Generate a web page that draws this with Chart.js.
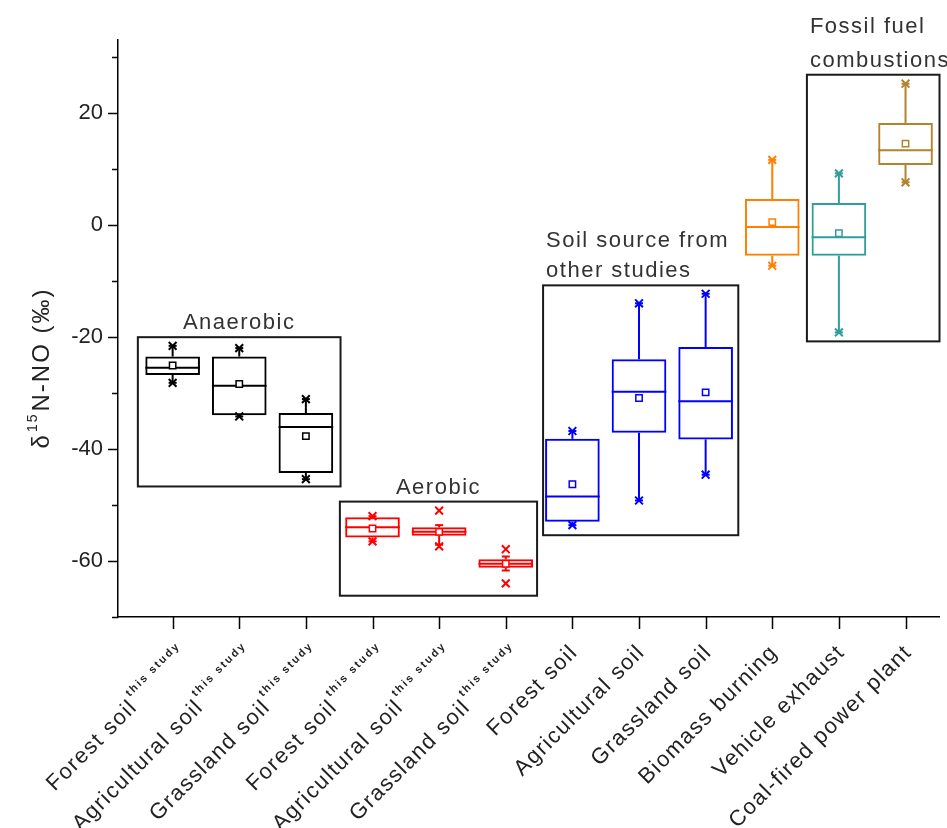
<!DOCTYPE html>
<html><head><meta charset="utf-8">
<script src="https://cdn.jsdelivr.net/npm/chart.js@4.4.1/dist/chart.umd.min.js"></script>
<style>html,body{margin:0;padding:0;background:#fff}#wrap{width:947px;height:828px}</style>
</head><body><div id="wrap"><canvas id="c" width="947" height="828"></canvas></div>
<script>
// ---- data ----
const categories = ['Forest soil','Agricultural soil','Grassland soil','Forest soil','Agricultural soil','Grassland soil','Forest soil','Agricultural soil','Grassland soil','Biomass burning','Vehicle exhaust','Coal-fired power plant'];
const superscripts = ['this study','this study','this study','this study','this study','this study','','','','','',''];
const q1          = [-26.8, -34.0, -44.3, -55.8, -55.5, -61.2, -53.0, -37.1, -38.3, -5.5, -5.5, 10.7];
const q3          = [-23.5, -23.5, -33.6, -52.2, -54.0, -59.7, -38.2, -24.0, -21.8,  4.6,  3.9, 18.2];
const median      = [-25.5, -28.7, -36.1, -54.0, -54.8, -60.5, -48.5, -29.8, -31.5, -0.4, -2.2, 13.3];
const mean        = [-25.1, -28.4, -37.7, -54.2, -54.8, -60.5, -46.3, -30.9, -29.9,  0.5, -1.5, 14.5];
const whiskerLow  = [-28.2, -34.2, -45.4, -56.5, -57.1, -61.7, -53.6, -49.2, -44.6, -7.3, -19.2, 7.6];
const whiskerHigh = [-21.6, -22.0, -31.1, -52.0, -53.6, -59.2, -36.8, -14.0, -12.3, 11.6,  9.2, 25.2];
const minValue    = [-28.2, -34.2, -45.4, -56.5, -57.4, -64.0, -53.6, -49.2, -44.6, -7.3, -19.2, 7.6];
const maxValue    = [-21.6, -22.0, -31.1, -52.0, -51.0, -57.9, -36.8, -14.0, -12.3, 11.6,  9.2, 25.2];
const yTickValues = [-70,-60,-50,-40,-30,-20,-10,0,10,20,30];
const groupNames  = [['Anaerobic'], ['Aerobic'], ['Soil source from','other studies'], ['Fossil fuel','combustions']];
const groupXFrom  = [0.478, 3.51, 6.56, 10.52];
const groupXTo    = [3.52, 6.47, 9.49, 12.51];
const groupYTop   = [-20.05, -49.4, -10.8, 26.8];
const groupYBot   = [-46.7, -66.2, -55.4, -20.8];

// ---- styles ----
const colors = ['#000000','#000000','#000000','#ff0000','#ff0000','#ff0000','#0000ff','#0000ff','#0000ff','#ff8000','#2e9e9c','#b3822d'];
const groupAlign = ['center','center','left','left'];
const groupLineGap = [29, 29, 30, 34];
const FONT = '"Liberation Sans", Arial, sans-serif';
const idx = categories.map((c,i)=>i+1);

function seg(ctx,x1,y1,x2,y2){ctx.beginPath();ctx.moveTo(x1,y1);ctx.lineTo(x2,y2);ctx.stroke();}

const boxPlugin = {
  id:'boxparts',
  beforeDatasetsDraw(chart){
    const ctx = chart.ctx, xs = chart.scales.x, ys = chart.scales.y;
    const meta = chart.getDatasetMeta(0);
    ctx.save();
    ctx.lineCap = 'butt';
    groupNames.forEach((g,k)=>{
      const x1 = xs.getPixelForValue(groupXFrom[k]), x2 = xs.getPixelForValue(groupXTo[k]);
      const y1 = ys.getPixelForValue(groupYTop[k]), y2 = ys.getPixelForValue(groupYBot[k]);
      ctx.strokeStyle = '#1a1a1a'; ctx.lineWidth = 2;
      ctx.strokeRect(x1, y1, x2-x1, y2-y1);
      ctx.fillStyle = '#333';
      ctx.font = '22px ' + FONT;
      ctx.letterSpacing = '1.5px';
      ctx.textBaseline = 'alphabetic';
      ctx.textAlign = groupAlign[k];
      const tx = groupAlign[k]==='center' ? (x1+x2)/2 : x1+3;
      const n = g.length;
      g.forEach((line,j)=>{
        ctx.fillText(line, tx, y1 - 8 - (n-1-j)*groupLineGap[k]);
      });
      ctx.letterSpacing = '0px';
    });
    idx.forEach((v,i)=>{
      const bar = meta.data[i];
      const x = bar.x, half = bar.width/2;
      ctx.strokeStyle = colors[i]; ctx.lineWidth = 2;
      const yq1 = ys.getPixelForValue(q1[i]), yq3 = ys.getPixelForValue(q3[i]);
      const yl = ys.getPixelForValue(whiskerLow[i]), yh = ys.getPixelForValue(whiskerHigh[i]);
      seg(ctx, x, yq3, x, yh);
      seg(ctx, x, yq1, x, yl);
      seg(ctx, x-4, yh, x+4, yh);
      seg(ctx, x-4, yl, x+4, yl);
      const ym = ys.getPixelForValue(median[i]);
      seg(ctx, x-half, ym, x+half, ym);
    });
    ctx.restore();
  },
  afterDraw(chart){
    const ctx = chart.ctx, xs = chart.scales.x, ys = chart.scales.y;
    const ca = chart.chartArea;
    ctx.save();
    ctx.strokeStyle = '#000'; ctx.lineWidth = 1.5;
    yTickValues.forEach(v=>{
      const y = Math.round(ys.getPixelForValue(v)) + 0.5;
      const len = (v % 20 === 0) ? 10 : 6;
      seg(ctx, ca.left - len, y, ca.left, y);
    });
    idx.forEach((v,i)=>{
      const x = Math.round(xs.getPixelForValue(v)) + 0.5;
      seg(ctx, x, ca.bottom, x, ca.bottom + 12);
      ctx.save();
      ctx.fillStyle = '#222';
      ctx.textAlign = 'right';
      if (superscripts[i]) {
        ctx.translate(x + 5, ca.bottom + 27);
        ctx.rotate(-Math.PI/4);
        ctx.font = 'bold 11px ' + FONT;
        ctx.letterSpacing = '2px';
        ctx.textBaseline = 'middle';
        ctx.fillText(superscripts[i], 0, 0);
        const w = ctx.measureText(superscripts[i]).width;
        ctx.font = '22px ' + FONT;
        ctx.letterSpacing = '1.5px';
        ctx.textBaseline = 'alphabetic';
        ctx.fillText(categories[i], -w - 2, 17);
      } else {
        ctx.translate(x + 2, ca.bottom + 32);
        ctx.rotate(-Math.PI/4);
        ctx.font = '22px ' + FONT;
        ctx.letterSpacing = '1.5px';
        ctx.textBaseline = 'middle';
        ctx.fillText(categories[i], 0, 0);
      }
      ctx.restore();
    });
    // y title with superscript
    ctx.save();
    ctx.translate(42, 368);
    ctx.rotate(-Math.PI/2);
    ctx.fillStyle = '#222';
    ctx.textAlign = 'left';
    ctx.textBaseline = 'middle';
    ctx.letterSpacing = '2px';
    ctx.font = '24px ' + FONT;
    const a = 'δ', c = 'N-NO (‰)', b = '15';
    const wa = ctx.measureText(a).width, wc = ctx.measureText(c).width;
    ctx.font = '14px ' + FONT;
    const wb = ctx.measureText(b).width;
    let sx = -(wa + wb + wc + 2) / 2;
    ctx.font = '24px ' + FONT; ctx.fillText(a, sx, 0); sx += wa + 1;
    ctx.font = '14px ' + FONT; ctx.fillText(b, sx, -9); sx += wb + 1;
    ctx.font = '24px ' + FONT; ctx.fillText(c, sx, 0);
    ctx.restore();
    ctx.restore();
  }
};

new Chart(document.getElementById('c'), {
  type: 'bar',
  data: {
    datasets: [
      {
        type: 'bar',
        data: idx.map((v,i)=>({x:v, y:[q1[i], q3[i]]})),
        backgroundColor: 'rgba(0,0,0,0)',
        borderColor: colors,
        borderWidth: 2,
        borderSkipped: false,
        barPercentage: 0.82,
        categoryPercentage: 1.0,
        order: 3
      },
      {
        type: 'scatter',
        data: idx.map((v,i)=>({x:v, y:mean[i]})),
        pointStyle: 'rect',
        pointRadius: 4.5,
        pointBorderWidth: 1.5,
        pointBorderColor: colors,
        pointBackgroundColor: '#ffffff',
        order: 1
      },
      {
        type: 'scatter',
        data: idx.map((v,i)=>({x:v, y:maxValue[i]})),
        pointStyle: 'crossRot',
        pointRadius: 5.5,
        pointBorderWidth: 2,
        pointBorderColor: colors,
        order: 2
      },
      {
        type: 'scatter',
        data: idx.map((v,i)=>({x:v, y:minValue[i]})),
        pointStyle: 'crossRot',
        pointRadius: 5.5,
        pointBorderWidth: 2,
        pointBorderColor: colors,
        order: 2
      }
    ]
  },
  options: {
    responsive: false,
    animation: false,
    devicePixelRatio: 1,
    layout: { padding: { top: 40, right: 7, left: 0, bottom: 0 } },
    plugins: { legend: { display: false }, tooltip: { enabled: false } },
    scales: {
      x: {
        type: 'linear',
        min: 0.18, max: 12.51,
        offset: false,
        grid: { display: true, drawOnChartArea: false, drawTicks: false },
        border: { display: true, color: '#000', width: 1.5 },
        ticks: { display: false },
        afterFit(scale){ scale.height = 211; }
      },
      y: {
        type: 'linear',
        min: -70, max: 33,
        grid: { display: true, drawOnChartArea: false, drawTicks: false },
        border: { display: true, color: '#000', width: 1.5 },
        ticks: {
          stepSize: 10,
          autoSkip: false,
          padding: 15,
          color: '#222',
          font: { family: FONT, size: 22 },
          callback: (v) => (v % 20 === 0 ? String(v) : '')
        },
        afterFit(scale){ scale.width = 118; }
      }
    }
  },
  plugins: [boxPlugin]
});
</script>
</body></html>
